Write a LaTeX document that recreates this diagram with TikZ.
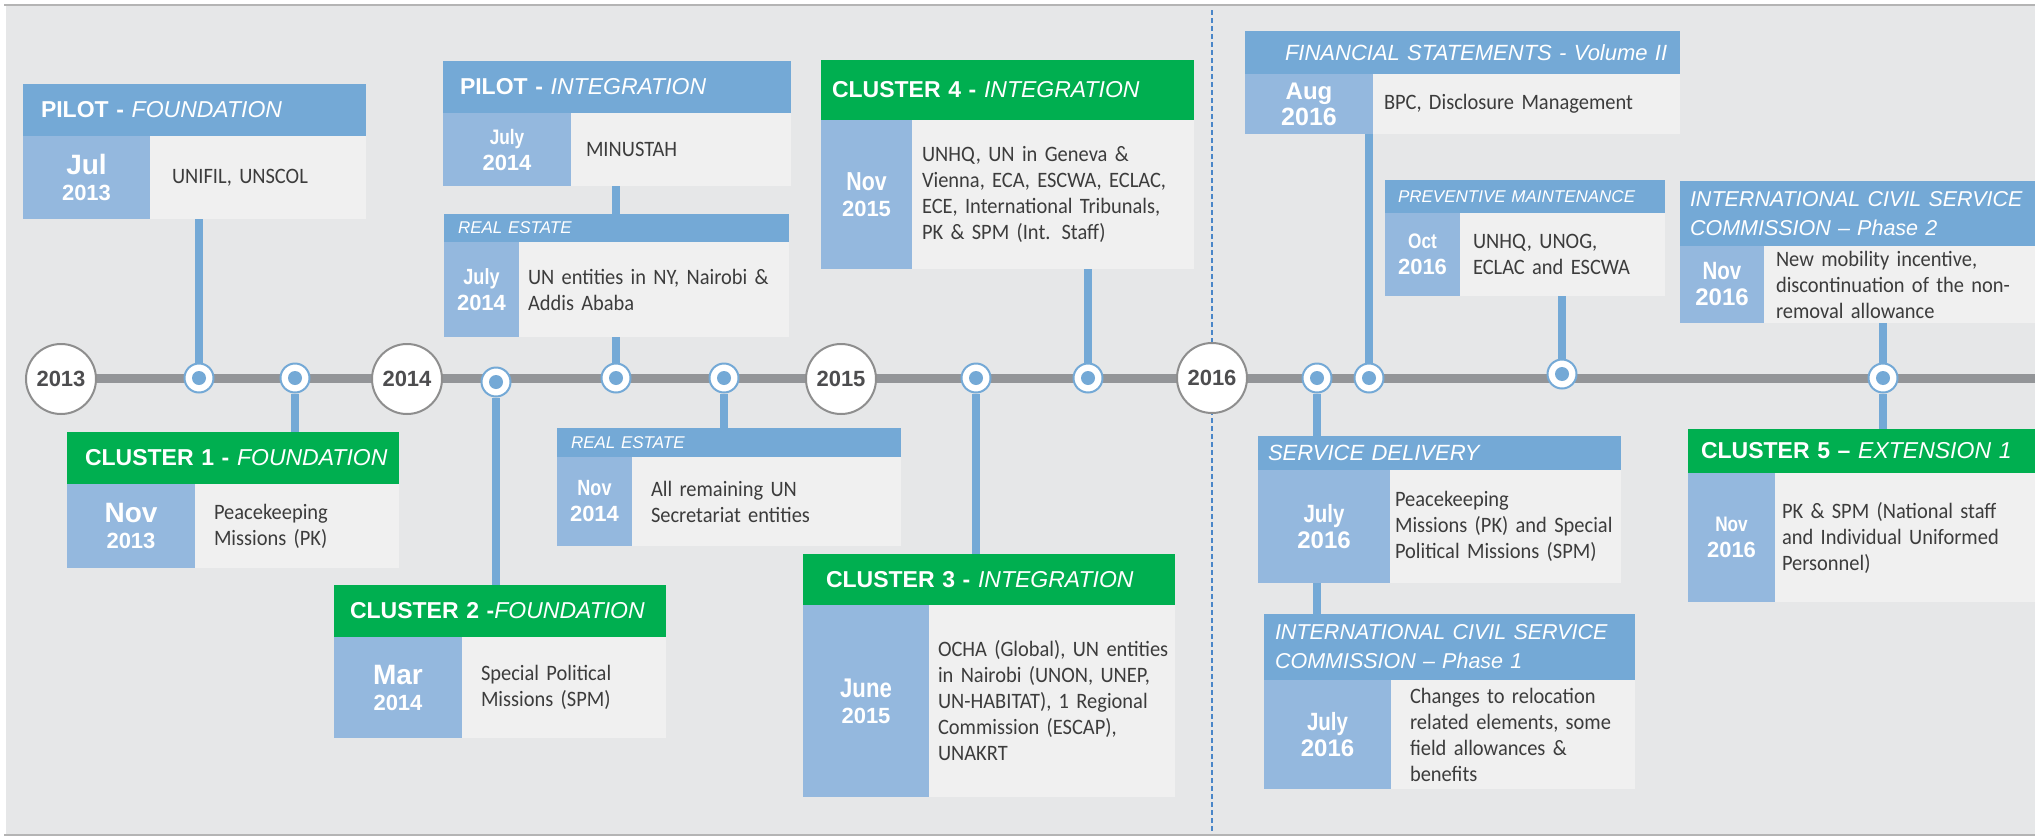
\documentclass[tikz,border=0pt]{standalone}
\usepackage{fontspec}
\setmainfont{Carlito}[FakeStretch=0.93]
\newfontfamily\arialfont{Liberation Sans}
\newfontfamily\narrowfont[FakeStretch=0.82]{Liberation Sans}

\definecolor{hdrblue}{RGB}{116,169,214}
\definecolor{dateblue}{RGB}{148,184,222}
\definecolor{boxgray}{RGB}{240,240,240}
\definecolor{bggray}{RGB}{230,231,232}
\definecolor{clgreen}{RGB}{0,175,80}
\definecolor{axisgray}{RGB}{147,149,152}
\definecolor{ringgray}{RGB}{142,142,142}
\definecolor{yeartext}{RGB}{77,77,79}
\definecolor{txtgray}{RGB}{60,60,60}
\definecolor{sepblue}{RGB}{74,134,200}
\definecolor{rulegray}{RGB}{180,180,180}

\newcommand{\hdrfont}{\arialfont\fontsize{23}{29}\selectfont}
\newcommand{\midhdrfont}{\arialfont\fontsize{22}{29}\selectfont}
\newcommand{\icscfont}{\arialfont\fontsize{21.5}{29}\selectfont}
\newcommand{\subhdrfont}{\arialfont\fontsize{17}{20}\selectfont}
\newcommand{\bodyfont}{\fontsize{22}{26}\selectfont}
\newcommand{\datefont}{\arialfont\bfseries\fontsize{22}{26}\selectfont}
\newcommand{\monthtxt}[2]{{\fontsize{#1}{26}\selectfont #2}}
\newcommand{\narrowmonth}[2]{{\narrowfont\fontsize{#1}{26}\selectfont #2}}

\begin{document}
\begin{tikzpicture}[x=1pt, y=-1pt, lpad/.style={execute at begin node={\leftskip=#1\rightskip=-20pt plus 1fil\hyphenpenalty=10000}}]
    \tikzstyle{hdr} = [rectangle, anchor=north west, fill=hdrblue, text=white, inner sep=0pt, outer sep=0pt, align=left, font=\hdrfont]
    \tikzstyle{clhdr} = [hdr, fill=clgreen]
    \tikzstyle{datebox} = [rectangle, anchor=north west, fill=dateblue, text=white, inner sep=0pt, outer sep=0pt, align=center, font=\datefont]
    \tikzstyle{txtbox} = [rectangle, anchor=north west, fill=boxgray, text=txtgray, inner sep=0pt, outer sep=0pt, align=left, font=\bodyfont]
    \tikzstyle{yearnode} = [circle, draw=ringgray, line width=2pt, fill=white, minimum size=70pt, inner sep=0pt, text=yeartext, font=\arialfont\bfseries\fontsize{22}{22}\selectfont]
    \tikzstyle{eventdot} = [circle, draw=hdrblue, line width=2pt, fill=white, minimum size=29pt, inner sep=0pt, path picture={\fill[hdrblue] (path picture bounding box.center) circle (7pt);}]
    \tikzstyle{link} = [draw=hdrblue, line width=8pt]
    \tikzstyle{axisline} = [draw=axisgray, line width=9pt]
    \tikzstyle{sepline} = [draw=sepblue, line width=1.5pt, dash pattern=on 5pt off 3pt]

    % Panel
    \useasboundingbox (0,0) rectangle (2035,838);
    \fill[bggray] (6,5) rectangle (2035,835);
    \draw[rulegray, line width=2pt] (4,5) -- (2035,5);
    \draw[rulegray, line width=2pt] (4,835) -- (2035,835);

    % Timeline
    \coordinate (axstart) at (61,378);
    \coordinate (axend) at (2035,378);
    \coordinate (septop) at (1212,10);
    \coordinate (sepbot) at (1212,833);
    \draw[axisline] (axstart) -- (axend);
    \draw[sepline] (septop) -- (sepbot);

    % Years
    \node[yearnode] (y13) at (61,379) {2013};
    \node[yearnode] (y14) at (407,379) {2014};
    \node[yearnode] (y15) at (841,379) {2015};
    \node[yearnode] (y16) at (1212,378) {2016};

    % Events on the line
    \node[eventdot] (dpf) at (199,378) {};
    \node[eventdot] (dc1) at (295,378) {};
    \node[eventdot] (dc2) at (496,382) {};
    \node[eventdot] (dre1) at (616,378) {};
    \node[eventdot] (dre2) at (724,378) {};
    \node[eventdot] (dc3) at (976,378) {};
    \node[eventdot] (dc4) at (1088,378) {};
    \node[eventdot] (dsd) at (1317,378) {};
    \node[eventdot] (dfs) at (1369,378) {};
    \node[eventdot] (dpm) at (1562,374) {};
    \node[eventdot] (dic) at (1883,378) {};

    % Pilot - Foundation
    \node[hdr, text width=343pt, minimum height=52pt, lpad=18pt] (pfh) at (23,84) {\textbf{PILOT - }\textit{FOUNDATION}};
    \node[datebox, text width=127pt, minimum height=83pt] (pfd) at (pfh.south west) {\monthtxt{28}{Jul}\\2013};
    \node[txtbox, text width=216pt, minimum height=83pt, lpad=22pt] (pft) at (pfd.north east) {UNIFIL, UNSCOL};

    % Pilot - Integration
    \node[hdr, text width=348pt, minimum height=52pt, lpad=17pt] (pih) at (443,61) {\textbf{PILOT - }\textit{INTEGRATION}};
    \node[datebox, text width=128pt, minimum height=73pt] (pid) at (pih.south west) {\narrowmonth{21}{July}\\2014};
    \node[txtbox, text width=220pt, minimum height=73pt, lpad=15pt] (pit) at (pid.north east) {MINUSTAH};

    % Real estate (July 2014)
    \node[hdr, font=\subhdrfont, text width=345pt, minimum height=28pt, lpad=14pt] (re1h) at (444,214) {\textit{REAL ESTATE}};
    \node[datebox, text width=75pt, minimum height=95pt] (re1d) at (re1h.south west) {\narrowmonth{22}{July}\\2014};
    \node[txtbox, text width=270pt, minimum height=95pt, lpad=9pt] (re1t) at (re1d.north east) {UN entities in NY, Nairobi \&\\Addis Ababa};

    % Cluster 1
    \node[clhdr, text width=332pt, minimum height=52pt, lpad=18pt] (c1h) at (67,432) {\textbf{CLUSTER 1 - }\textit{FOUNDATION}};
    \node[datebox, text width=128pt, minimum height=84pt] (c1d) at (c1h.south west) {\monthtxt{28}{Nov}\\2013};
    \node[txtbox, text width=204pt, minimum height=84pt, lpad=19pt] (c1t) at (c1d.north east) {Peacekeeping\\Missions (PK)};

    % Cluster 2
    \node[clhdr, text width=332pt, minimum height=52pt, lpad=16pt] (c2h) at (334,585) {\textbf{CLUSTER 2 -}\textit{FOUNDATION}};
    \node[datebox, text width=128pt, minimum height=101pt] (c2d) at (c2h.south west) {\monthtxt{28}{Mar}\\2014};
    \node[txtbox, text width=204pt, minimum height=101pt, lpad=19pt] (c2t) at (c2d.north east) {Special Political\\Missions (SPM)};

    % Real estate (Nov 2014)
    \node[hdr, font=\subhdrfont, text width=344pt, minimum height=29pt, lpad=14pt] (re2h) at (557,428) {\textit{REAL ESTATE}};
    \node[datebox, text width=75pt, minimum height=89pt] (re2d) at (re2h.south west) {\narrowmonth{22}{Nov}\\2014};
    \node[txtbox, text width=269pt, minimum height=89pt, lpad=19pt] (re2t) at (re2d.north east) {All remaining UN\\Secretariat entities};

    % Cluster 4
    \node[clhdr, text width=373pt, minimum height=60pt, lpad=11pt] (c4h) at (821,60) {\textbf{CLUSTER 4 - }\textit{INTEGRATION}};
    \node[datebox, text width=91pt, minimum height=149pt] (c4d) at (c4h.south west) {\narrowmonth{26}{Nov}\\2015};
    \node[txtbox, text width=282pt, minimum height=149pt, lpad=10pt] (c4t) at (c4d.north east) {UNHQ, UN in Geneva \&\\Vienna, ECA, ESCWA, ECLAC,\\ECE, International Tribunals,\\PK \& SPM (Int. Staff)};

    % Cluster 3
    \node[clhdr, text width=372pt, minimum height=51pt, lpad=23pt] (c3h) at (803,554) {\textbf{CLUSTER 3 - }\textit{INTEGRATION}};
    \node[datebox, text width=126pt, minimum height=192pt] (c3d) at (c3h.south west) {\narrowmonth{27}{June}\\2015};
    \node[txtbox, text width=246pt, minimum height=192pt, lpad=9pt] (c3t) at (c3d.north east) {OCHA (Global), UN entities\\in Nairobi (UNON, UNEP,\\UN-HABITAT), 1 Regional\\Commission (ESCAP),\\UNAKRT};

    % Financial statements
    \node[hdr, font=\midhdrfont, text width=435pt, minimum height=43pt, lpad=40pt] (fsh) at (1245,31) {\textit{FINANCIAL STATEMENTS - Volume II}};
    \node[datebox, text width=128pt, minimum height=60pt] (fsd) at (fsh.south west) {\monthtxt{24}{Aug}\\\monthtxt{25}{2016}};
    \node[txtbox, text width=307pt, minimum height=60pt, lpad=11pt] (fst) at (fsd.north east) {BPC, Disclosure Management};

    % Preventive maintenance
    \node[hdr, font=\subhdrfont, text width=280pt, minimum height=33pt, lpad=13pt] (pmh) at (1385,180) {\textit{PREVENTIVE MAINTENANCE}};
    \node[datebox, text width=75pt, minimum height=83pt] (pmd) at (pmh.south west) {\narrowmonth{21}{Oct}\\2016};
    \node[txtbox, text width=205pt, minimum height=83pt, lpad=13pt] (pmt) at (pmd.north east) {UNHQ, UNOG,\\ECLAC and ESCWA};

    % ICSC - Phase 2
    \node[hdr, font=\icscfont, text width=355pt, minimum height=65pt, lpad=10pt] (ic2h) at (1680,181) {\textit{INTERNATIONAL CIVIL SERVICE\\COMMISSION – Phase 2}};
    \node[datebox, text width=84pt, minimum height=77pt] (ic2d) at (ic2h.south west) {\narrowmonth{25}{Nov}\\\monthtxt{24}{2016}};
    \node[txtbox, text width=271pt, minimum height=77pt, lpad=12pt] (ic2t) at (ic2d.north east) {New mobility incentive,\\discontinuation of the non-\\removal allowance};

    % Service delivery
    \node[hdr, font=\midhdrfont, text width=363pt, minimum height=34pt, lpad=10pt] (sdh) at (1258,436) {\textit{SERVICE DELIVERY}};
    \node[datebox, text width=132pt, minimum height=113pt] (sdd) at (sdh.south west) {\narrowmonth{25}{July}\\\monthtxt{24}{2016}};
    \node[txtbox, text width=231pt, minimum height=113pt, lpad=5pt] (sdt) at (sdd.north east) {Peacekeeping\\Missions (PK) and Special\\Political Missions (SPM)};

    % ICSC - Phase 1
    \node[hdr, font=\icscfont, text width=371pt, minimum height=66pt, lpad=11pt] (ic1h) at (1264,614) {\textit{INTERNATIONAL CIVIL SERVICE\\COMMISSION – Phase 1}};
    \node[datebox, text width=127pt, minimum height=109pt] (ic1d) at (ic1h.south west) {\narrowmonth{25}{July}\\\monthtxt{24}{2016}};
    \node[txtbox, text width=244pt, minimum height=109pt, lpad=19pt] (ic1t) at (ic1d.north east) {Changes to relocation\\related elements, some\\field allowances \&\\benefits};

    % Cluster 5
    \node[clhdr, text width=347pt, minimum height=44pt, lpad=13pt] (c5h) at (1688,429) {\textbf{CLUSTER 5 –} \textit{EXTENSION 1}};
    \node[datebox, text width=87pt, minimum height=129pt] (c5d) at (c5h.south west) {\narrowmonth{21}{Nov}\\2016};
    \node[txtbox, text width=260pt, minimum height=129pt, lpad=7pt] (c5t) at (c5d.north east) {PK \& SPM (National staff\\and Individual Uniformed\\Personnel)};

    % Connections
    \draw[link] (dpf.north) -- (dpf |- pft.south);
    \draw[link] (dc1.south) -- (dc1 |- c1h.north);
    \draw[link] (dc2.south) -- (dc2 |- c2h.north);
    \draw[link] (dre1.north) -- (dre1 |- re1t.south);
    \draw[link] (dre1 |- re1h.north) -- (dre1 |- pit.south);
    \draw[link] (dre2.south) -- (dre2 |- re2h.north);
    \draw[link] (dc3.south) -- (dc3 |- c3h.north);
    \draw[link] (dc4.north) -- (dc4 |- c4t.south);
    \draw[link] (dsd.south) -- (dsd |- sdh.north);
    \draw[link] (dsd |- sdd.south) -- (dsd |- ic1h.north);
    \draw[link] (dfs.north) -- (dfs |- fsd.south);
    \draw[link] (dpm.north) -- (dpm |- pmt.south);
    \draw[link] (dic.north) -- (dic |- ic2t.south);
    \draw[link] (dic.south) -- (dic |- c5h.north);
\end{tikzpicture}
\end{document}
